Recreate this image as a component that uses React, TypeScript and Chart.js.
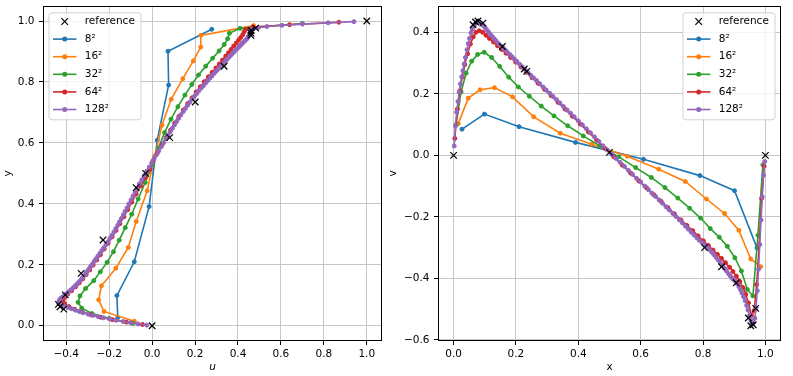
import React, { useEffect, useRef } from "react";
import { Chart, registerables } from "chart.js";
Chart.register(...registerables);

// Reference (Ghia et al.) profiles
const refY = [1.0, 0.9766, 0.9688, 0.9609, 0.9531, 0.8516, 0.7344, 0.6172, 0.5, 0.4531, 0.2813, 0.1719, 0.1016, 0.0703, 0.0625, 0.0547, 0.0];
const refU = [1.0, 0.48223, 0.4612, 0.45992, 0.46036, 0.33556, 0.20087, 0.08183, -0.03039, -0.07404, -0.22855, -0.3305, -0.40435, -0.43643, -0.42901, -0.41165, 0.0];
const refX = [1.0, 0.9688, 0.9609, 0.9531, 0.9453, 0.9063, 0.8594, 0.8047, 0.5, 0.2344, 0.2266, 0.1563, 0.0938, 0.0781, 0.0703, 0.0625, 0.0];
const refV = [0.0, -0.49774, -0.55069, -0.55408, -0.52876, -0.41442, -0.36214, -0.30018, 0.00945, 0.2728, 0.28066, 0.35368, 0.42951, 0.43648, 0.43329, 0.42447, 0.0];

// 8^2
const grid8 = [0.027, 0.099, 0.21, 0.391, 0.609, 0.79, 0.901, 0.973];
const u8 = [-0.16, -0.164, -0.083, -0.014, 0.024, 0.077, 0.074, 0.278];
const v8 = [0.085, 0.134, 0.093, 0.042, -0.013, -0.066, -0.115, -0.301];

// 16^2
const grid16 = [0.015, 0.047, 0.085, 0.131, 0.189, 0.257, 0.342, 0.443, 0.557, 0.658, 0.743, 0.811, 0.869, 0.915, 0.953, 0.985];
const u16 = [-0.083, -0.224, -0.249, -0.236, -0.169, -0.111, -0.074, -0.023, 0.012, 0.046, 0.089, 0.143, 0.192, 0.227, 0.227, 0.473];
const v16 = [0.103, 0.186, 0.213, 0.22, 0.19, 0.125, 0.072, 0.036, -0.003, -0.045, -0.085, -0.142, -0.189, -0.244, -0.337, -0.362];

// 32^2
const grid32 = [0.008, 0.024, 0.04, 0.058, 0.077, 0.098, 0.122, 0.148, 0.177, 0.208, 0.243, 0.281, 0.322, 0.366, 0.416, 0.47,
  0.53, 0.584, 0.634, 0.678, 0.719, 0.757, 0.792, 0.823, 0.852, 0.878, 0.902, 0.923, 0.942, 0.96, 0.976, 0.992];
const u32 = [-0.09, -0.2, -0.28, -0.328, -0.345, -0.336, -0.31, -0.272, -0.241, -0.21, -0.18, -0.153, -0.125, -0.095, -0.065, -0.032,
  0.003, 0.03, 0.058, 0.088, 0.12, 0.153, 0.185, 0.216, 0.25, 0.282, 0.312, 0.336, 0.352, 0.36, 0.41, 0.7];
const v32 = [0.1, 0.206, 0.267, 0.306, 0.328, 0.335, 0.318, 0.289, 0.254, 0.222, 0.192, 0.16, 0.128, 0.096, 0.063, 0.03,
  -0.005, -0.04, -0.072, -0.105, -0.139, -0.172, -0.204, -0.238, -0.266, -0.296, -0.333, -0.376, -0.436, -0.457, -0.26, -0.031];

// 64^2
const grid64 = [0.004, 0.012, 0.02, 0.028, 0.036, 0.045, 0.054, 0.063, 0.072, 0.082, 0.093, 0.104, 0.115, 0.128, 0.141, 0.154,
  0.168, 0.183, 0.199, 0.216, 0.233, 0.252, 0.271, 0.292, 0.313, 0.335, 0.358, 0.381, 0.406, 0.432, 0.459, 0.486,
  0.514, 0.541, 0.568, 0.594, 0.619, 0.642, 0.665, 0.687, 0.708, 0.729, 0.748, 0.767, 0.784, 0.801, 0.817, 0.832,
  0.846, 0.859, 0.872, 0.885, 0.896, 0.907, 0.918, 0.928, 0.937, 0.946, 0.955, 0.964, 0.972, 0.98, 0.988, 0.996];
const u64 = [-0.045, -0.12, -0.185, -0.24, -0.285, -0.325, -0.36, -0.388, -0.407, -0.415, -0.408, -0.393, -0.375, -0.356, -0.339, -0.323,
  -0.307, -0.291, -0.275, -0.258, -0.241, -0.223, -0.205, -0.186, -0.168, -0.15, -0.131, -0.113, -0.094, -0.074, -0.053, -0.032,
  -0.01, 0.004, 0.025, 0.046, 0.067, 0.086, 0.105, 0.125, 0.145, 0.166, 0.186, 0.205, 0.224, 0.243, 0.262, 0.28,
  0.297, 0.313, 0.328, 0.343, 0.356, 0.368, 0.38, 0.392, 0.403, 0.413, 0.422, 0.428, 0.435, 0.47, 0.64, 0.87];
const v64 = [0.055, 0.15, 0.21, 0.255, 0.295, 0.33, 0.362, 0.385, 0.4, 0.405, 0.4, 0.39, 0.38, 0.368, 0.356, 0.344,
  0.332, 0.318, 0.303, 0.287, 0.27, 0.252, 0.234, 0.214, 0.194, 0.172, 0.15, 0.127, 0.102, 0.076, 0.049, 0.022,
  -0.005, -0.032, -0.058, -0.083, -0.106, -0.128, -0.149, -0.17, -0.19, -0.21, -0.228, -0.245, -0.262, -0.278, -0.293, -0.308,
  -0.322, -0.335, -0.349, -0.364, -0.378, -0.393, -0.41, -0.43, -0.452, -0.48, -0.52, -0.505, -0.42, -0.29, -0.14, -0.035];

// 128^2
const grid128 = [0.002, 0.006, 0.01, 0.014, 0.018, 0.022, 0.026, 0.03, 0.034, 0.038, 0.043, 0.047, 0.051, 0.056, 0.06, 0.065,
  0.07, 0.075, 0.08, 0.085, 0.09, 0.095, 0.101, 0.106, 0.112, 0.118, 0.125, 0.131, 0.137, 0.144, 0.151, 0.158,
  0.165, 0.172, 0.18, 0.187, 0.195, 0.203, 0.212, 0.22, 0.229, 0.238, 0.247, 0.256, 0.266, 0.276, 0.287, 0.297,
  0.308, 0.319, 0.33, 0.341, 0.352, 0.364, 0.375, 0.387, 0.4, 0.413, 0.426, 0.439, 0.452, 0.466, 0.479, 0.493,
  0.507, 0.521, 0.534, 0.548, 0.561, 0.574, 0.587, 0.6, 0.613, 0.625, 0.636, 0.648, 0.659, 0.67, 0.681, 0.692,
  0.703, 0.713, 0.724, 0.734, 0.744, 0.753, 0.762, 0.771, 0.78, 0.788, 0.797, 0.805, 0.813, 0.82, 0.828, 0.835,
  0.842, 0.849, 0.856, 0.863, 0.869, 0.875, 0.882, 0.888, 0.894, 0.899, 0.905, 0.91, 0.915, 0.92, 0.925, 0.93,
  0.935, 0.94, 0.944, 0.949, 0.953, 0.957, 0.962, 0.966, 0.97, 0.974, 0.978, 0.982, 0.986, 0.99, 0.994, 0.998];
const u128 = [-0.025, -0.065, -0.1, -0.135, -0.168, -0.198, -0.226, -0.252, -0.276, -0.298, -0.322, -0.34, -0.357, -0.376, -0.392, -0.41,
  -0.424, -0.432, -0.434, -0.431, -0.425, -0.417, -0.407, -0.398, -0.388, -0.378, -0.367, -0.358, -0.35, -0.341, -0.332, -0.324,
  -0.316, -0.309, -0.301, -0.294, -0.286, -0.278, -0.269, -0.261, -0.252, -0.243, -0.234, -0.225, -0.215, -0.205, -0.196, -0.187,
  -0.178, -0.169, -0.16, -0.152, -0.143, -0.134, -0.126, -0.117, -0.108, -0.098, -0.089, -0.079, -0.07, -0.059, -0.048, -0.037,
  -0.025, -0.013, -0.002, 0.009, 0.02, 0.031, 0.042, 0.053, 0.064, 0.074, 0.084, 0.094, 0.104, 0.114, 0.124, 0.134,
  0.145, 0.155, 0.166, 0.176, 0.187, 0.197, 0.208, 0.218, 0.229, 0.239, 0.25, 0.26, 0.27, 0.279, 0.289, 0.298,
  0.307, 0.316, 0.325, 0.334, 0.342, 0.35, 0.359, 0.367, 0.375, 0.382, 0.39, 0.397, 0.404, 0.411, 0.418, 0.425,
  0.432, 0.439, 0.444, 0.449, 0.453, 0.456, 0.458, 0.46, 0.463, 0.472, 0.495, 0.535, 0.605, 0.7, 0.82, 0.94];
const v128 = [0.03, 0.095, 0.14, 0.175, 0.205, 0.232, 0.255, 0.275, 0.297, 0.318, 0.343, 0.363, 0.38, 0.398, 0.41, 0.42,
  0.428, 0.432, 0.434, 0.432, 0.428, 0.422, 0.415, 0.408, 0.401, 0.393, 0.385, 0.378, 0.371, 0.363, 0.356, 0.35,
  0.343, 0.336, 0.328, 0.321, 0.313, 0.305, 0.296, 0.288, 0.279, 0.27, 0.261, 0.252, 0.243, 0.233, 0.222, 0.212,
  0.202, 0.191, 0.181, 0.17, 0.159, 0.147, 0.137, 0.125, 0.112, 0.099, 0.086, 0.073, 0.06, 0.045, 0.031, 0.017,
  0.003, -0.01, -0.023, -0.036, -0.049, -0.062, -0.075, -0.087, -0.1, -0.112, -0.123, -0.134, -0.145, -0.156, -0.167, -0.178,
  -0.189, -0.199, -0.21, -0.22, -0.231, -0.24, -0.25, -0.259, -0.268, -0.276, -0.284, -0.29, -0.298, -0.306, -0.315, -0.323,
  -0.332, -0.341, -0.35, -0.36, -0.368, -0.376, -0.385, -0.393, -0.4, -0.405, -0.41, -0.418, -0.427, -0.437, -0.448, -0.46,
  -0.473, -0.488, -0.503, -0.52, -0.535, -0.545, -0.545, -0.53, -0.495, -0.44, -0.37, -0.29, -0.21, -0.135, -0.065, -0.02];

const seriesLabels = ["8\u00b2", "16\u00b2", "32\u00b2", "64\u00b2", "128\u00b2"];
const seriesColors = ["#1f77b4", "#ff7f0e", "#2ca02c", "#d62728", "#9467bd"];
const grids = [grid8, grid16, grid32, grid64, grid128];
const uSeries = [u8, u16, u32, u64, u128];
const vSeries = [v8, v16, v32, v64, v128];

const uTicks = [-0.4, -0.2, 0.0, 0.2, 0.4, 0.6, 0.8, 1.0];
const yTicks = [0.0, 0.2, 0.4, 0.6, 0.8, 1.0];
const xTicks = [0.0, 0.2, 0.4, 0.6, 0.8, 1.0];
const vTicks = [-0.6, -0.4, -0.2, 0.0, 0.2, 0.4];

const FONT = "'DejaVu Sans', sans-serif";
const FS = 10.5;

const fmt = (v: number) => {
  const s = Math.abs(v).toFixed(1);
  return v < -1e-9 ? "\u2212" + s : s;
};

function buildDatasets(kind: "u" | "v") {
  const ds: any[] = [];
  ds.push({
    label: "reference",
    data: kind === "u" ? refU.map((u, i) => ({ x: u, y: refY[i] })) : refX.map((x, i) => ({ x, y: refV[i] })),
    showLine: false,
    pointStyle: "crossRot",
    pointRadius: 4.6,
    pointHoverRadius: 4.6,
    pointBorderWidth: 1.2,
    pointBorderColor: "#000",
    borderColor: "#000",
    backgroundColor: "#000",
    order: 0,
  });
  for (let s = 0; s < 5; s++) {
    const g = grids[s];
    const vals = kind === "u" ? uSeries[s] : vSeries[s];
    ds.push({
      label: seriesLabels[s],
      data: g.map((p, i) => (kind === "u" ? { x: vals[i], y: p } : { x: p, y: vals[i] })),
      showLine: true,
      borderColor: seriesColors[s],
      backgroundColor: seriesColors[s],
      borderWidth: 1.6,
      pointStyle: "circle",
      pointRadius: 2,
      pointHoverRadius: 2,
      pointBorderWidth: 1,
      pointBackgroundColor: seriesColors[s],
      pointBorderColor: seriesColors[s],
      tension: 0,
      fill: false,
      order: 5 - s,
    });
  }
  return ds;
}

const frameLegendPlugin = {
  id: "frameLegend",
  afterDraw(chart: any, _args: any, opts: any) {
    const { ctx, chartArea: a } = chart;
    ctx.save();
    // axes frame
    ctx.strokeStyle = "#000";
    ctx.lineWidth = 1;
    const l = Math.round(a.left) + 0.5, t = Math.round(a.top) + 0.5;
    const r = Math.round(a.right) - 0.5, b = Math.round(a.bottom) - 0.5;
    ctx.strokeRect(l, t, r - l, b - t);
    // legend
    const boxW = 92, boxH = 107;
    const bx = opts.side === "left" ? a.left + 6 : a.right - 6 - boxW;
    const by = a.top + 7;
    const rad = 3;
    ctx.beginPath();
    ctx.moveTo(bx + rad, by);
    ctx.lineTo(bx + boxW - rad, by);
    ctx.arcTo(bx + boxW, by, bx + boxW, by + rad, rad);
    ctx.lineTo(bx + boxW, by + boxH - rad);
    ctx.arcTo(bx + boxW, by + boxH, bx + boxW - rad, by + boxH, rad);
    ctx.lineTo(bx + rad, by + boxH);
    ctx.arcTo(bx, by + boxH, bx, by + boxH - rad, rad);
    ctx.lineTo(bx, by + rad);
    ctx.arcTo(bx, by, bx + rad, by, rad);
    ctx.closePath();
    ctx.fillStyle = "rgba(255,255,255,0.8)";
    ctx.fill();
    ctx.strokeStyle = "#d0d0d0";
    ctx.lineWidth = 1;
    ctx.stroke();
    const dsets = chart.data.datasets;
    ctx.font = `${FS}px ${FONT}`;
    ctx.textBaseline = "middle";
    ctx.textAlign = "left";
    for (let i = 0; i < dsets.length; i++) {
      const d = dsets[i];
      const cy = by + 8.7 + i * 17.6;
      const x0 = bx + 4, x1 = bx + 27.4, xm = (x0 + x1) / 2;
      if (i === 0) {
        ctx.strokeStyle = "#000";
        ctx.lineWidth = 1.2;
        const h = 3.3;
        ctx.beginPath();
        ctx.moveTo(xm - h, cy - h);
        ctx.lineTo(xm + h, cy + h);
        ctx.moveTo(xm - h, cy + h);
        ctx.lineTo(xm + h, cy - h);
        ctx.stroke();
      } else {
        ctx.strokeStyle = d.borderColor;
        ctx.lineWidth = 1.6;
        ctx.beginPath();
        ctx.moveTo(x0, cy);
        ctx.lineTo(x1, cy);
        ctx.stroke();
        ctx.fillStyle = d.borderColor;
        ctx.beginPath();
        ctx.arc(xm, cy, 2.5, 0, Math.PI * 2);
        ctx.fill();
      }
      ctx.fillStyle = "#000";
      ctx.fillText(d.label, bx + 35.7, cy);
    }
    ctx.restore();
  },
};

function makeScale(opts: {
  axis: "x" | "y";
  min: number;
  max: number;
  ticks: number[];
  title: string;
  italic?: boolean;
  size: number;
  titlePad: any;
}) {
  const isX = opts.axis === "x";
  return {
    type: "linear",
    position: isX ? "bottom" : "left",
    min: opts.min,
    max: opts.max,
    afterBuildTicks: (ax: any) => {
      ax.ticks = opts.ticks.map((v) => ({ value: v }));
    },
    afterFit: (ax: any) => {
      if (isX) {
        ax.height = opts.size;
        ax.paddingLeft = 0;
        ax.paddingRight = 0;
      } else {
        ax.width = opts.size;
        ax.paddingTop = 0;
        ax.paddingBottom = 0;
      }
    },
    ticks: {
      callback: (v: any) => fmt(Number(v)),
      color: "#000",
      font: { family: FONT, size: FS },
      padding: isX ? 3 : 4.5,
      autoSkip: false,
      maxRotation: 0,
      minRotation: 0,
    },
    grid: {
      color: "#c6c6c6",
      lineWidth: 1,
      tickColor: "#000",
      tickLength: 4,
      tickWidth: 1,
      drawTicks: true,
    },
    border: { display: false },
    title: {
      display: true,
      text: opts.title,
      color: "#000",
      font: { family: FONT, size: FS, style: opts.italic ? "italic" : "normal" },
      padding: opts.titlePad,
    },
  };
}

function Panel(props: { kind: "u" | "v"; left: number; width: number }) {
  const ref = useRef<HTMLCanvasElement | null>(null);
  useEffect(() => {
    if (!ref.current) return;
    const isU = props.kind === "u";
    const chart = new Chart(ref.current, {
      type: "scatter",
      data: { datasets: buildDatasets(props.kind) },
      options: {
        animation: false,
        responsive: false,
        devicePixelRatio: 1,
        events: [],
        layout: { padding: { top: 3, right: isU ? 1.3 : 12, bottom: 0, left: 0 } },
        plugins: {
          legend: { display: false },
          tooltip: { enabled: false },
          frameLegend: { side: isU ? "left" : "right" },
        } as any,
        scales: {
          x: isU
            ? makeScale({ axis: "x", min: -0.5082, max: 1.0718, ticks: uTicks, title: "u", italic: true, size: 35, titlePad: { top: 0, bottom: 2 } })
            : makeScale({ axis: "x", min: -0.05, max: 1.05, ticks: xTicks, title: "x", size: 35, titlePad: { top: 0, bottom: 2 } }),
          y: isU
            ? makeScale({ axis: "y", min: -0.05, max: 1.05, ticks: yTicks, title: "y", size: 43, titlePad: { top: 2, bottom: 0 } })
            : makeScale({ axis: "y", min: -0.6036, max: 0.486, ticks: vTicks, title: "v", size: 58, titlePad: { top: 7, bottom: 0 } }),
        } as any,
      },
      plugins: [frameLegendPlugin as any],
    });
    return () => chart.destroy();
  }, [props.kind]);
  return (
    <canvas
      ref={ref}
      width={props.width}
      height={376}
      style={{ position: "absolute", left: props.left, top: 0, width: props.width, height: 376 }}
    />
  );
}

export default function App() {
  return (
    <div style={{ position: "fixed", left: 0, top: 0, width: 793, height: 376, background: "#fff", overflow: "hidden" }}>
      <Panel kind="u" left={0} width={388} />
      <Panel kind="v" left={380} width={413} />
    </div>
  );
}
